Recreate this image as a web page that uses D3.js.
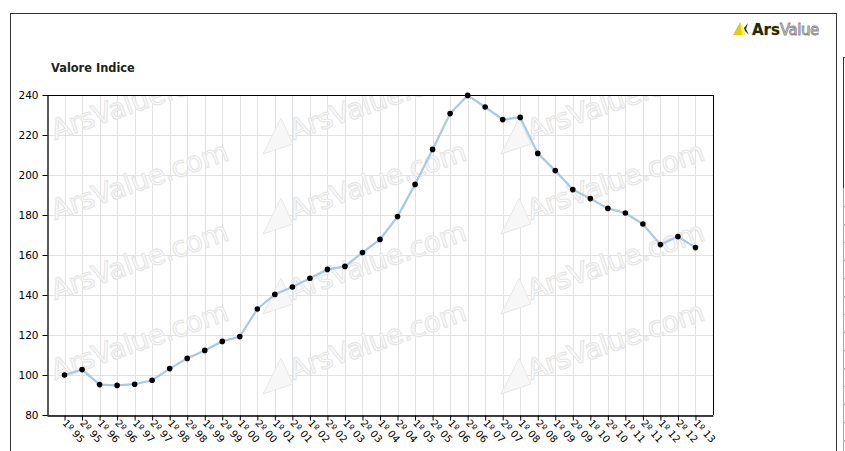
<!DOCTYPE html>
<html><head><meta charset="utf-8">
<script src="https://cdn.jsdelivr.net/npm/d3@7"></script>
<style>body{margin:0;background:#fff;}svg{display:block;}</style>
</head><body>
<script>
const semesters = ["1º","2º"];
const years = ["95","96","97","98","99","00","01","02","03","04","05","06","07","08","09","10","11","12","13"];
const categories = [];
years.forEach((y,i)=>semesters.forEach(s=>{ if(!(i===years.length-1 && s==="2º")) categories.push(s+" "+y); }));
const values = [100,102.7,95.2,94.8,95.4,97.4,103.2,108.3,112.3,116.8,119.2,133,140.3,144,148.4,152.8,154.3,161.2,
  167.8,179.2,195.3,212.8,230.7,239.8,234,227.7,228.8,210.8,202.2,192.7,188.2,183.3,181,175.5,165.2,169.2,163.7];
const yTicks = [80,100,120,140,160,180,200,220,240];

const W=845,H=451;
const svg=d3.select("body").append("svg").attr("width",W).attr("height",H);
const m={l:47,t:95,r:713,b:415};
const x=d3.scalePoint().domain(categories).range([m.l,m.r]).padding(1);
const y=d3.scaleLinear().domain([80,240]).range([m.b,m.t]);

// outer frame
svg.append("rect").attr("x",10.5).attr("y",13.5).attr("width",826).attr("height",450).attr("fill","none").attr("stroke","#333");
// right side partial panel
svg.append("line").attr("x1",843.5).attr("x2",843.5).attr("y1",57).attr("y2",188).attr("stroke","#333");
svg.append("line").attr("x1",843.5).attr("x2",843.5).attr("y1",188).attr("y2",451).attr("stroke","#aaa");
svg.append("line").attr("x1",843).attr("x2",847).attr("y1",57.5).attr("y2",57.5).attr("stroke","#333");
d3.range(206,451,18).forEach(v=>svg.append("line").attr("x1",843).attr("x2",846).attr("y1",v+0.5).attr("y2",v+0.5).attr("stroke","#aaa"));

// logo
const logo=svg.append("g").attr("transform","translate(733,20)");
logo.append("path").attr("d","M0,15 L7,2 L12,15 Z").attr("fill","#e8d000");
logo.append("path").attr("d","M7,2 L12,15 L9,15 Z").attr("fill","#f6ec7a");
logo.append("path").attr("d","M11,8 L15,3 L13,9 L16,15 L12,11 Z").attr("fill","#333");
logo.append("text").attr("x",19).attr("y",14.5).text("Ars").attr("font-family","DejaVu Sans").attr("font-weight","bold").attr("font-size",15)
  .attr("fill","#222").attr("stroke","#e0d000").attr("stroke-width",0.6).attr("paint-order","stroke");
logo.append("text").attr("x",47).attr("y",14.5).text("Value").attr("font-family","DejaVu Sans").attr("font-size",15)
  .attr("fill","#fff").attr("stroke","#888").attr("stroke-width",0.9).attr("letter-spacing",-0.5);

// title
svg.append("text").attr("x",51).attr("y",72).text("Valore Indice").attr("font-family","DejaVu Sans").attr("font-weight","bold")
  .attr("font-size",11.4).attr("fill","#222");

// grid
const grid=svg.append("g");
yTicks.forEach(t=>grid.append("line").attr("x1",m.l).attr("x2",m.r).attr("y1",Math.round(y(t))+0.5).attr("y2",Math.round(y(t))+0.5).attr("stroke","#e2e2e2"));
categories.forEach(c=>grid.append("line").attr("x1",Math.round(x(c))+0.5).attr("x2",Math.round(x(c))+0.5).attr("y1",m.t).attr("y2",m.b).attr("stroke","#e2e2e2"));

// watermark
svg.append("clipPath").attr("id","pc").append("rect").attr("x",m.l).attr("y",m.t).attr("width",m.r-m.l).attr("height",m.b-m.t);
const wm=svg.append("g").attr("clip-path","url(#pc)");
for(let col=0;col<3;col++){
  for(let row=0;row<4;row++){
    const ox=55+col*238, oy=140+row*80;
    const g=wm.append("g").attr("transform",`translate(${ox},${oy})`);
    g.append("path").attr("d","M208,14 L226,-22 L238,4 Z").attr("fill","#f7f7f7").attr("stroke","#e8e8e8");
    g.append("text").attr("transform","rotate(-19)").text("ArsValue.com").attr("font-family","DejaVu Sans").attr("font-size",28)
      .attr("fill","#fff").attr("stroke","#e6e6e6").attr("stroke-width",1.2).attr("letter-spacing",-0.5);
  }
}

// axes
svg.append("line").attr("x1",m.l).attr("x2",m.r).attr("y1",m.t+0.5).attr("y2",m.t+0.5).attr("stroke","#000");
svg.append("line").attr("x1",m.r+0.5).attr("x2",m.r+0.5).attr("y1",m.t).attr("y2",m.b).attr("stroke","#000");
const ya=svg.append("g").attr("transform",`translate(${m.l+0.5},0)`).call(d3.axisLeft(y).tickValues(yTicks).tickSize(5).tickSizeOuter(0));
ya.select(".domain").attr("stroke","#000").attr("stroke-width",1.3);
ya.selectAll("text").attr("font-family","DejaVu Sans").attr("font-size",10.5).attr("fill","#000").attr("dx",-1);
const xa=svg.append("g").attr("transform",`translate(0,${m.b+0.5})`).call(d3.axisBottom(x).tickSize(5).tickSizeOuter(0));
xa.select(".domain").attr("stroke","#000").attr("stroke-width",1.3);
xa.selectAll("text").attr("font-family","DejaVu Sans").attr("font-size",10).attr("fill","#000")
  .attr("text-anchor","start").attr("dy",0).attr("y",0)
  .attr("transform","translate(-3,8) rotate(48)");

// line + points
const ln=d3.line().x((d,i)=>x(categories[i])).y(d=>y(d));
svg.append("path").datum(values).attr("d",ln).attr("fill","none").attr("stroke","#a9c9e2").attr("stroke-width",2.2);
svg.selectAll("circle.p").data(values).enter().append("circle").attr("cx",(d,i)=>x(categories[i])).attr("cy",d=>y(d)).attr("r",2.8).attr("fill","#000");
</script>
</body></html>
